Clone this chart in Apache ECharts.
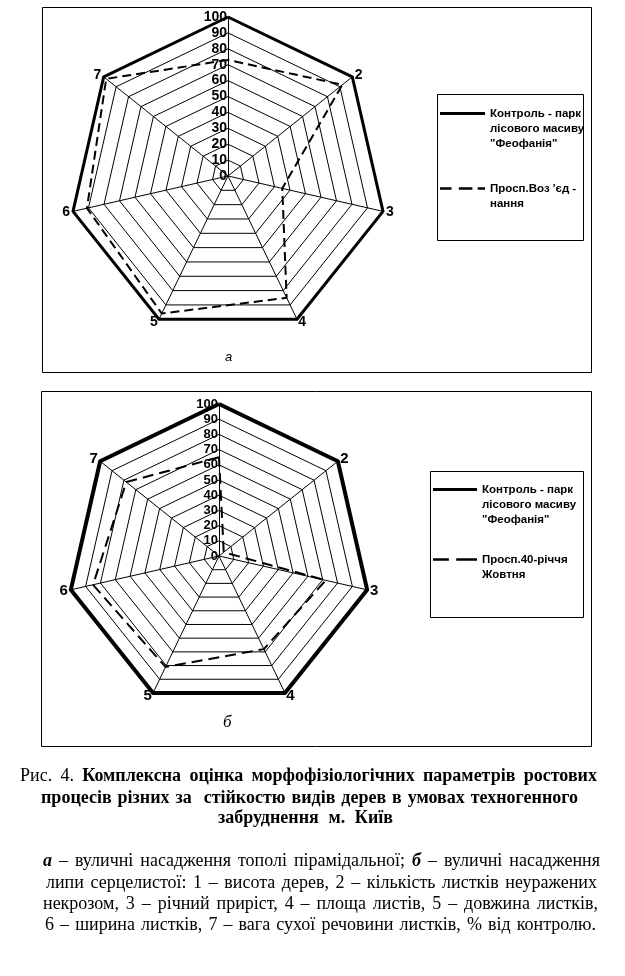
<!DOCTYPE html>
<html>
<head>
<meta charset="utf-8">
<script src="https://cdn.jsdelivr.net/npm/echarts@6/dist/echarts.min.js"></script>
<style>
  html, body { margin: 0; padding: 0; background: #fff; }
  #chart { position: absolute; left: 0; top: 0; width: 625px; height: 976px; }
  .ln {
    position: absolute; height: 20px; line-height: 20px; font-size: 18px; color: #000;
    font-family: "Liberation Serif", "Times New Roman", serif;
    white-space: nowrap; text-align: justify; text-align-last: justify;
  }
  .bd { font-weight: bold; }
  .nb { font-weight: normal; }
  .bi { font-weight: bold; font-style: italic; }
</style>
</head>
<body>
<div id="chart"></div>

<div class="ln bd" data-w="577" style="left:20px;top:765px;"><span class="nb">Рис. 4.</span> Комплексна оцінка морфофізіологічних параметрів ростових</div>
<div class="ln bd" data-w="537" style="left:41px;top:787px;">процесів різних за&nbsp; стійкостю видів дерев в умовах техногенного</div>
<div class="ln bd" data-w="175" style="left:218px;top:807px;">забруднення м. Київ</div>

<div class="ln" data-w="557" style="left:43px;top:850px;"><span class="bi">а</span> – вуличні насадження тополі пірамідальної; <span class="bi">б</span> – вуличні насадження</div>
<div class="ln" data-w="551" style="left:46px;top:872px;">липи серцелистої: 1 – висота дерев, 2 – кількість листків неуражених</div>
<div class="ln" data-w="555" style="left:43px;top:893px;">некрозом, 3 – річний приріст, 4 – площа листів, 5 – довжина листків,</div>
<div class="ln" data-w="551" style="left:45px;top:914px;">6 – ширина листків, 7 – вага сухої речовини листків, % від контролю.</div>

<script>
// axis numbers (1 sits at the top, then clockwise)
const axisNames = ['1', '2', '3', '4', '5', '6', '7'];
const tickMin = 0;
const tickMax = 100;
const tickStep = 10;

// series names
const nameControl = 'Контроль - парк\nлісового масиву\n"Феофанія"';
const nameVozz = 'Просп.Воз \'єд -\nнання';
const name40 = 'Просп.40-річчя\nЖовтня';

// a - poplar, % of control
const controlA = [100, 100, 100, 100, 100, 100, 100];
const vozzA = [73, 92, 35, 85, 96, 91, 98];
// b - linden, % of control
const controlB = [100, 100, 100, 100, 100, 100, 100];
const oct40B = [65, 4, 72, 68, 81, 85, 78];

// shrink each caption line until it fits its width, then justify it
document.querySelectorAll('.ln').forEach(el => {
  const w = +el.dataset.w;
  let fs = 18;
  el.style.fontSize = fs + 'px';
  while (el.offsetWidth > w && fs > 10) {
    fs -= 0.25;
    el.style.fontSize = fs + 'px';
  }
  el.style.width = w + 'px';
});

// echarts radar runs counter-clockwise, the figure runs clockwise
const order = [0, 6, 5, 4, 3, 2, 1];
const cw = arr => order.map(i => arr[i]);

function indicators() {
  return order.map(i => {
    const ind = { name: i === 0 ? '' : axisNames[i], min: tickMin, max: tickMax };
    if (i === 0) ind.axisLabel = { show: true };
    return ind;
  });
}

function radarOpt(center, radius, labelSize, nameSize) {
  return {
    center: center,
    radius: radius,
    startAngle: 90,
    shape: 'polygon',
    splitNumber: (tickMax - tickMin) / tickStep,
    indicator: indicators(),
    nameGap: 3,
    axisName: { color: '#000', fontSize: nameSize, fontWeight: 'bold', fontFamily: 'Arial' },
    splitLine: { lineStyle: { color: '#000', width: 1 } },
    splitArea: { show: false },
    axisLine: { lineStyle: { color: '#000', width: 1 } },
    axisTick: { show: false },
    axisLabel: {
      show: false, color: '#000', fontSize: labelSize, fontWeight: 'bold', fontFamily: 'Arial',
      margin: 1, showMinLabel: true, showMaxLabel: true
    }
  };
}

const solidIcon = 'path://M0,0H45V3H0Z';
const dashIconA = 'path://M0,0H11V2.5H0Z M18,0H31V2.5H18Z M36,0H43V2.5H36Z';
const dashIconB = 'path://M0,0H13V2.2H0Z M19,0H36V2.2H19Z';

function legendOpt(left, top, gap, width, items) {
  return {
    orient: 'vertical',
    left: left,
    top: top,
    padding: 0,
    itemGap: gap,
    itemWidth: width,
    itemHeight: 3,
    selectedMode: false,
    itemStyle: { color: '#000', borderWidth: 0 },
    textStyle: { color: '#000', fontFamily: 'Arial', fontWeight: 'bold', fontSize: 11.5, lineHeight: 15 },
    // blank lines above keep the line sample level with the first text row
    formatter: n => '\n'.repeat(n.split('\n').length - 1) + n,
    data: items
  };
}

const chart = echarts.init(document.getElementById('chart'), null, { renderer: 'canvas' });

chart.setOption({
  animation: false,
  backgroundColor: '#fff',
  title: [
    { text: 'а', left: 220, top: 346, textStyle: { fontFamily: 'Arial', fontStyle: 'italic', fontWeight: 'normal', fontSize: 13, color: '#000' } },
    { text: 'б', left: 218, top: 709, textStyle: { fontFamily: 'Liberation Serif', fontStyle: 'italic', fontWeight: 'normal', fontSize: 17, color: '#000' } }
  ],
  graphic: [
    { type: 'rect', shape: { x: 42.5, y: 7.5, width: 549, height: 365 }, style: { fill: 'none', stroke: '#000', lineWidth: 1 }, silent: true },
    { type: 'rect', shape: { x: 41.5, y: 391.5, width: 550, height: 355 }, style: { fill: 'none', stroke: '#000', lineWidth: 1 }, silent: true },
    { type: 'rect', shape: { x: 437.5, y: 94.5, width: 146, height: 146 }, style: { fill: 'none', stroke: '#000', lineWidth: 1 }, silent: true },
    { type: 'rect', shape: { x: 430.5, y: 471.5, width: 153, height: 146 }, style: { fill: 'none', stroke: '#000', lineWidth: 1 }, silent: true }
  ],
  radar: [
    radarOpt([228, 176], 159, 14, 14),
    radarOpt([219, 556], 152, 13, 15)
  ],
  legend: [
    legendOpt(440, 76, 15, 45, [
      { name: nameControl, icon: solidIcon },
      { name: nameVozz, icon: dashIconA }
    ]),
    legendOpt(433, 452, 10, 44, [
      { name: nameControl, icon: solidIcon },
      { name: name40, icon: dashIconB }
    ])
  ],
  series: [
    {
      type: 'radar',
      radarIndex: 0,
      symbol: 'none',
      silent: true,
      data: [
        { name: nameControl, value: cw(controlA), lineStyle: { color: '#000', width: 3, type: 'solid' }, itemStyle: { color: '#000' } },
        { name: nameVozz, value: cw(vozzA), lineStyle: { color: '#000', width: 2, type: [9, 5] }, itemStyle: { color: '#000' } }
      ]
    },
    {
      type: 'radar',
      radarIndex: 1,
      symbol: 'none',
      silent: true,
      data: [
        { name: nameControl, value: cw(controlB), lineStyle: { color: '#000', width: 4, type: 'solid' }, itemStyle: { color: '#000' } },
        { name: name40, value: cw(oct40B), lineStyle: { color: '#000', width: 2, type: [11, 6] }, itemStyle: { color: '#000' } }
      ]
    }
  ]
});
</script>
</body>
</html>
